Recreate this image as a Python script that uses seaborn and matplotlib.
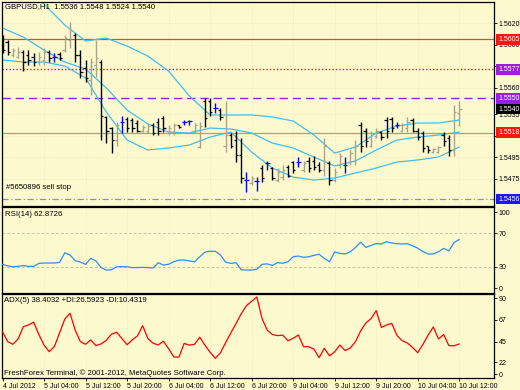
import matplotlib
matplotlib.use("Agg")
import matplotlib.pyplot as plt
import matplotlib.transforms as mtrans
import seaborn as sns
import numpy as np
import pandas as pd

sns.set_theme(style="white")
plt.rcParams['font.family'] = ['Liberation Sans Narrow', 'Liberation Sans', 'DejaVu Sans']

# ---------------- data ----------------
bar_open = [1.5606,1.5603,1.5590,1.5589,1.5593,1.5590,1.5589,1.5584,1.5586,1.5593,
            1.5589,1.5591,1.5595,1.5604,1.5609,1.5590,1.5578,1.5567,1.5581,1.5584,
            1.5533,1.5522,1.5511,1.5528,1.5531,1.5530,1.5527,1.5520,1.5520,1.5525,
            1.5528,1.5532,1.5518,1.5519,1.5525,1.5528,1.5529,1.5520,1.5505,1.5548,
            1.5548,1.5541,1.5539,1.5506,1.5516,1.5511,1.5497,1.5474,1.5471,1.5473,
            1.5485,1.5490,1.5485,1.5474,1.5477,1.5486,1.5491,1.5491,1.5483,1.5492,
            1.5492,1.5488,1.5483,1.5490,1.5474,1.5488,1.5488,1.5491,1.5492,1.5525,
            1.5520,1.5506,1.5515,1.5519,1.5530,1.5531,1.5525,1.5520,1.5522,1.5530,
            1.5520,1.5518,1.5506,1.5500,1.5500,1.5516,1.5513,1.5502,1.5536]
bar_high = [1.5609,1.5604,1.5597,1.5598,1.5595,1.5595,1.5592,1.5593,1.5597,1.5595,
            1.5592,1.5593,1.5609,1.5621,1.5611,1.5595,1.5586,1.5588,1.5604,1.5586,
            1.5534,1.5523,1.5528,1.5534,1.5533,1.5532,1.5530,1.5525,1.5527,1.5527,
            1.5532,1.5534,1.5525,1.5527,1.5525,1.5530,1.5530,1.5527,1.5528,1.5550,
            1.5550,1.5546,1.5541,1.5548,1.5518,1.5520,1.5513,1.5481,1.5478,1.5477,
            1.5488,1.5492,1.5486,1.5485,1.5488,1.5488,1.5492,1.5495,1.5492,1.5495,
            1.5496,1.5491,1.5513,1.5492,1.5485,1.5499,1.5495,1.5502,1.5511,1.5528,
            1.5522,1.5520,1.5522,1.5520,1.5533,1.5533,1.5528,1.5527,1.5533,1.5532,
            1.5522,1.5520,1.5506,1.5504,1.5506,1.5519,1.5516,1.5544,1.5548]
bar_low = [1.5592,1.5590,1.5589,1.5588,1.5576,1.5581,1.5580,1.5581,1.5581,1.5584,
           1.5584,1.5586,1.5593,1.5597,1.5584,1.5569,1.5565,1.5553,1.5570,1.5511,
           1.5508,1.5499,1.5506,1.5518,1.5519,1.5519,1.5519,1.5519,1.5518,1.5516,
           1.5516,1.5519,1.5516,1.5516,1.5522,1.5525,1.5525,1.5518,1.5504,1.5523,
           1.5534,1.5536,1.5530,1.5500,1.5504,1.5491,1.5471,1.5463,1.5469,1.5464,
           1.5472,1.5483,1.5474,1.5472,1.5474,1.5477,1.5480,1.5486,1.5481,1.5481,
           1.5483,1.5481,1.5478,1.5469,1.5472,1.5485,1.5480,1.5488,1.5488,1.5500,
           1.5505,1.5505,1.5513,1.5511,1.5513,1.5519,1.5522,1.5519,1.5519,1.5519,
           1.5511,1.5500,1.5499,1.5499,1.5499,1.5506,1.5496,1.5496,1.5524]
bar_close = [1.5595,1.5593,1.5595,1.5593,1.5584,1.5586,1.5584,1.5589,1.5593,1.5588,
             1.5589,1.5588,1.5606,1.5614,1.5590,1.5575,1.5569,1.5584,1.5588,1.5534,
             1.5520,1.5511,1.5525,1.5528,1.5522,1.5522,1.5520,1.5523,1.5524,1.5518,
             1.5520,1.5522,1.5522,1.5525,1.5523,1.5528,1.5529,1.5525,1.5524,1.5532,
             1.5537,1.5541,1.5533,1.5516,1.5506,1.5497,1.5476,1.5474,1.5476,1.5473,
             1.5476,1.5490,1.5476,1.5481,1.5483,1.5478,1.5483,1.5491,1.5490,1.5485,
             1.5486,1.5483,1.5506,1.5474,1.5481,1.5496,1.5488,1.5499,1.5506,1.5506,
             1.5510,1.5518,1.5520,1.5514,1.5520,1.5522,1.5525,1.5525,1.5528,1.5520,
             1.5514,1.5504,1.5502,1.5503,1.5505,1.5510,1.5502,1.5537,1.5540]

bb_bar = [0,4,8,12,16,20,24,28,32,36,40,44,48,52,56,60,64,68,72,76,80,84,88]
bb_upper = [1.56557,1.56492,1.56380,1.56184,1.56035,1.56063,1.55988,1.55895,1.55755,1.55522,
            1.55345,1.55345,1.55345,1.55326,1.55289,1.55158,1.54990,1.55046,1.55177,1.55242,
            1.55270,1.55270,1.55298]
bb_middle = [1.56156,1.56072,1.55951,1.55839,1.55774,1.55597,1.55391,1.55261,1.55186,1.55177,
             1.55223,1.55214,1.55177,1.55083,1.55037,1.54953,1.54869,1.54916,1.55018,1.55111,
             1.55139,1.55158,1.55186]
bb_lower = [1.55858,1.55839,1.55839,1.55802,1.55690,1.55373,1.55111,1.55018,1.55037,1.55065,
            1.55139,1.55186,1.54999,1.54850,1.54766,1.54738,1.54757,1.54804,1.54850,1.54906,
            1.54925,1.54953,1.55046]

rsi_values = [33,31,30,30.5,31.5,30.5,30.5,34,34.5,34.5,
              34.5,35.3,46.8,44.1,37.2,35.7,32.9,40.1,37,29,
              26.1,26.5,30.1,30.1,30,29,29.1,29.3,29,28.5,
              34.9,32.1,33,36,38,38.1,37,36,42,47.5,
              48.7,48.5,44,35.5,34.1,34.9,26.5,26.1,26.1,27,
              32.9,33.5,31.6,35,34.2,36,42,42.9,41.3,42,
              43.7,45,40,36,47.7,46.1,45.3,48,53,59.5,
              53.2,55.5,57.8,57.3,60,58.5,57.6,57.3,57.6,55.2,
              52.3,48.3,45.3,45.3,48,52,49,59,62.87]
adx_values = [52,41,38,44,57.8,59.8,63,49,37,29.7,
              35.5,51,66.5,73,54,41,38,43,36.5,38.5,
              42.5,49.5,51.5,44.5,37.5,43,47.5,59,44.5,39.3,
              37.2,41.5,33,23.8,23.5,39,37,38,46,37,
              29,22.2,28.5,40,51,61.5,72.5,81.5,86.5,91.3,
              67,54,49,47.8,48.3,42,44.7,48.5,35.3,35.3,
              32.5,23,33.5,25,29.5,37.2,31,33.8,41,53,
              62,66.8,76,57,59.8,61.5,48,42,39.5,34.5,
              28.5,38,48.3,57.5,44,49,36.5,36.4,38.4]

price_ticks = [1.5620, 1.5600, 1.5580, 1.5560, 1.5535, 1.5515, 1.5495, 1.5475]
level_prices = [1.5605, 1.5577, 1.5550, 1.5518, 1.5456]
current_price = 1.5540
time_labels = ["4 Jul 2012", "5 Jul 04:00", "5 Jul 12:00", "5 Jul 20:00", "6 Jul 04:00",
               "6 Jul 12:00", "6 Jul 20:00", "9 Jul 04:00", "9 Jul 12:00", "9 Jul 20:00",
               "10 Jul 04:00", "10 Jul 12:00"]
time_label_bars = [0, 8, 16, 24, 32, 40, 48, 56, 64, 72, 80, 88]
rsi_tick_pos = [95.5, 70, 30, 4.2]
rsi_tick_lab = ["100", "70", "30", "0"]
adx_tick_pos = [90, 65.4, 40.9, 17.7, 4.5]
adx_tick_lab = ["90", "67", "45", "22", "0"]

# ---------------- style ----------------
BG = '#FDF9CF'
UP = '#A8A48C'
DOWN = '#000000'
DOJI = '#0000FF'
BAND = '#3EC0EE'
FS = 5.6
FSR = 5.0

W, H = 520, 390
fig = plt.figure(figsize=(W / 100, H / 100), dpi=100, facecolor=BG)

def axrect(x0, y0, x1, y1):
    return [x0 / W, 1 - y1 / H, (x1 - x0) / W, (y1 - y0) / H]

ax = fig.add_axes(axrect(2, 2, 494, 206), facecolor=BG)
ax_rsi = fig.add_axes(axrect(2, 207, 494, 293), facecolor=BG, sharex=ax)
ax_adx = fig.add_axes(axrect(2, 294, 494, 378), facecolor=BG, sharex=ax)

df = pd.DataFrame({"o": bar_open, "h": bar_high, "l": bar_low, "c": bar_close})
df["i"] = np.arange(len(df))
cols = np.where(df.c > df.o, UP, np.where(df.c < df.o, DOWN, DOJI))

# grid (faint)
for a in (ax, ax_rsi, ax_adx):
    for b in time_label_bars:
        a.axvline(b, color='#ECE5B8', lw=0.6, ls=(0, (1, 2)), zorder=0)
for p in price_ticks:
    ax.axhline(p, color='#ECE5B8', lw=0.6, ls=(0, (1, 2)), zorder=0)

# bollinger bands
bb = pd.DataFrame({"bar": bb_bar, "up": bb_upper, "mid": bb_middle, "lo": bb_lower})
for col in ["up", "mid", "lo"]:
    sns.lineplot(data=bb, x="bar", y=col, ax=ax, color=BAND, lw=0.9, zorder=2)

# level lines
ax.axhline(level_prices[0], color='#FF3B2F', lw=0.9, zorder=1)
ax.axhline(level_prices[1], color='#9A1FE0', lw=1.0, ls=(0, (1, 1.5)), zorder=1)
ax.axhline(level_prices[2], color='#9A1FE0', lw=1.0, ls=(0, (6, 3.5)), zorder=1)
ax.axhline(level_prices[3], color='#F08070', lw=0.9, zorder=1)
ax.axhline(level_prices[4], color='#8C84F0', lw=0.9, ls=(0, (5, 2, 1, 2)), zorder=1)

# OHLC bars
ax.vlines(df.i, df.l, df.h, colors=cols, lw=1.0, zorder=3)
ax.hlines(df.o, df.i - 0.45, df.i, colors=cols, lw=0.9, zorder=3)
ax.hlines(df.c, df.i, df.i + 0.45, colors=cols, lw=0.9, zorder=3)

ax.set_xlim(-0.1, 94.7)
ax.set_ylim(1.54496, 1.56399)

# RSI
rs = pd.DataFrame({"bar": np.arange(len(rsi_values)), "rsi": rsi_values})
ax_rsi.axhline(70, color='#C8C4A8', lw=0.7, ls=(0, (3, 2)), zorder=1)
ax_rsi.axhline(30, color='#C8C4A8', lw=0.7, ls=(0, (3, 2)), zorder=1)
sns.lineplot(data=rs, x="bar", y="rsi", ax=ax_rsi, color='#2E8FF0', lw=0.9, zorder=3)
ax_rsi.set_ylim(-1.4, 101.6)

# ADX
ad = pd.DataFrame({"bar": np.arange(len(adx_values)), "adx": adx_values})
sns.lineplot(data=ad, x="bar", y="adx", ax=ax_adx, color='#FF0000', lw=0.9, zorder=3)
ax_adx.set_ylim(0, 94.7)

for a in (ax, ax_rsi, ax_adx):
    for s in a.spines.values():
        s.set_color('black')
        s.set_linewidth(0.9)
    a.set_xlabel("")
    a.set_ylabel("")
    a.yaxis.tick_right()
    a.tick_params(axis='y', which='both', direction='out', length=2.2, width=0.6,
                  pad=1.0, labelsize=FSR, colors='black', right=True, left=False)
    a.tick_params(axis='x', which='both', bottom=False, labelbottom=False, top=False)

ax.set_yticks(price_ticks)
ax.set_yticklabels([f"{p:.4f}" for p in price_ticks])
ax_rsi.set_yticks(rsi_tick_pos)
ax_rsi.set_yticklabels(rsi_tick_lab)
ax_adx.set_yticks(adx_tick_pos)
ax_adx.set_yticklabels(adx_tick_lab)

ax_adx.set_xticks(time_label_bars)
ax_adx.set_xticklabels(time_labels)
ax_adx.tick_params(axis='x', bottom=True, labelbottom=True, direction='out',
                   length=2.5, width=0.6, pad=1.0, labelsize=FSR, colors='black')
for t in ax_adx.get_xticklabels():
    t.set_ha('left')
ax_adx.set_xlim(-0.1, 94.7)

# price label boxes on the right axis
tr = mtrans.blended_transform_factory(ax.transAxes, ax.transData)
box_cols = ['#F21A10', '#9A1FE0', '#9A1FE0', '#F21A10', '#1A1AF0']
for p, bc in zip(level_prices, box_cols):
    ax.text(1.0 + 4 / 492, p, f"{p:.4f}", transform=tr, ha='left', va='center',
            fontsize=FSR, color='white', clip_on=False, zorder=10,
            bbox=dict(boxstyle='square,pad=0.25', fc=bc, ec='none'))
ax.text(1.0 + 4 / 492, current_price, f"{current_price:.4f}", transform=tr, ha='left',
        va='center', fontsize=FSR, color='white', clip_on=False, zorder=10,
        bbox=dict(boxstyle='square,pad=0.25', fc='black', ec='none'))

# texts
def ftext(x, y, s, **kw):
    fig.text(x / W, 1 - y / H, s, fontsize=FS, color='black', va='center', ha='left', **kw)

ftext(5, 7, "GBPUSD,H1  1.5536 1.5548 1.5524 1.5540")
ftext(6, 187, "#5650896 sell stop")
ftext(5, 214, "RSI(14) 62.8726")
ftext(4, 300, "ADX(5) 38.4032 +DI:26.5923 -DI:10.4319")
ftext(4, 373, "FreshForex Terminal, \u00a9 2001-2012, MetaQuotes Software Corp.")

fig.savefig("out.png", dpi=100, facecolor=BG)
